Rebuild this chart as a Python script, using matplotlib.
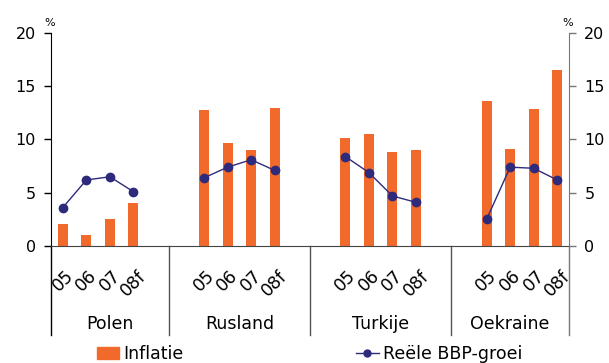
import matplotlib
matplotlib.use("Agg")
import matplotlib.pyplot as plt
import numpy as np
from matplotlib.patches import Patch
from matplotlib.lines import Line2D
import matplotlib.transforms as mtransforms

plt.rcParams['font.family'] = ['DejaVu Sans']

countries = ["Polen", "Rusland", "Turkije", "Oekraine"]
years = ["05", "06", "07", "08f"]
inflatie = {
    "Polen": [2.1, 1.0, 2.5, 4.0],
    "Rusland": [12.8, 9.7, 9.0, 13.0],
    "Turkije": [10.1, 10.5, 8.8, 9.0],
    "Oekraine": [13.6, 9.1, 12.9, 16.5],
}
bbp_groei = {
    "Polen": [3.6, 6.2, 6.5, 5.1],
    "Rusland": [6.4, 7.4, 8.1, 7.1],
    "Turkije": [8.4, 6.9, 4.7, 4.1],
    "Oekraine": [2.5, 7.4, 7.3, 6.2],
}

orange = "#F26A2B"
navy = "#2E2A7C"

W, H = 609, 363
fig = plt.figure(figsize=(W / 100, H / 100), dpi=100)
x0, x1, y0, y1 = 51, 569, 246, 33
ax = fig.add_axes([x0 / W, (H - y0) / H, (x1 - x0) / W, (y0 - y1) / H])

gap = 2
n = len(countries) * len(years) + (len(countries) - 1) * gap
trans = mtransforms.blended_transform_factory(ax.transData, ax.transAxes)

seps = [-0.5]
for i in range(1, len(countries)):
    seps.append(i * (len(years) + gap) - gap / 2 - 0.5)
seps.append(n - 0.5)

xticks, xlabels = [], []
for i, c in enumerate(countries):
    start = i * (len(years) + gap)
    xs = np.arange(start, start + len(years))
    ax.bar(xs, inflatie[c], width=0.42, color=orange, zorder=2)
    ax.plot(xs, bbp_groei[c], color=navy, lw=1, marker='o', markersize=6, zorder=3)
    xticks.extend(xs)
    xlabels.extend(years)
    ax.text((seps[i] + seps[i + 1]) / 2, -(324 - 246) / (246 - 33), c, transform=trans,
            ha='center', va='center', fontsize=12.5)

ax.set_xlim(-0.5, n - 0.5)
ax.set_ylim(0, 20)
ax.set_yticks([0, 5, 10, 15, 20])
ax.set_xticks(xticks)
ax.set_xticklabels(xlabels, rotation=45, ha='center', va='top', fontsize=12.5)
ax.tick_params(axis='x', length=0, pad=15)
ax.tick_params(axis='y', direction='out', length=5, width=1, labelsize=11.5, pad=6, color='black')
for s in ['top', 'right']:
    ax.spines[s].set_visible(False)
ax.spines['left'].set_color('black')
ax.spines['bottom'].set_color('#444444')

ax2 = ax.twinx()
ax2.set_ylim(0, 20)
ax2.set_yticks([0, 5, 10, 15, 20])
ax2.tick_params(axis='y', direction='out', length=5, width=1, labelsize=11.5, pad=6, color='#777777')
for s in ['top', 'left', 'bottom']:
    ax2.spines[s].set_visible(False)
ax2.spines['right'].set_color('#777777')

bottom_frac = -(335 - 246) / (246 - 33)
for i, xpos in enumerate(seps):
    col = 'black' if i == 0 else ('#777777' if i == len(seps) - 1 else '#555555')
    ax.add_line(Line2D([xpos, xpos], [0, bottom_frac], transform=trans, color=col, lw=1, clip_on=False))

fig.text(50 / W, 1 - 23 / H, "%", fontsize=8, ha='center', va='center')
fig.text(568 / W, 1 - 23 / H, "%", fontsize=8, ha='center', va='center')

leg_y = 1 - 354 / H
fig.legend(handles=[Patch(color=orange, label='Inflatie')], loc='center left',
           bbox_to_anchor=(97 / W, leg_y), frameon=False, fontsize=12.5,
           handlelength=1.25, handleheight=0.75, handletextpad=0.25, borderpad=0, borderaxespad=0)
fig.legend(handles=[Line2D([], [], color=navy, lw=1, marker='o', markersize=5, label='Reële BBP-groei')],
           loc='center left', bbox_to_anchor=(356 / W, leg_y), frameon=False, fontsize=12.5,
           handlelength=1.3, handletextpad=0.25, borderpad=0, borderaxespad=0)

fig.savefig("out.png", dpi=100)
